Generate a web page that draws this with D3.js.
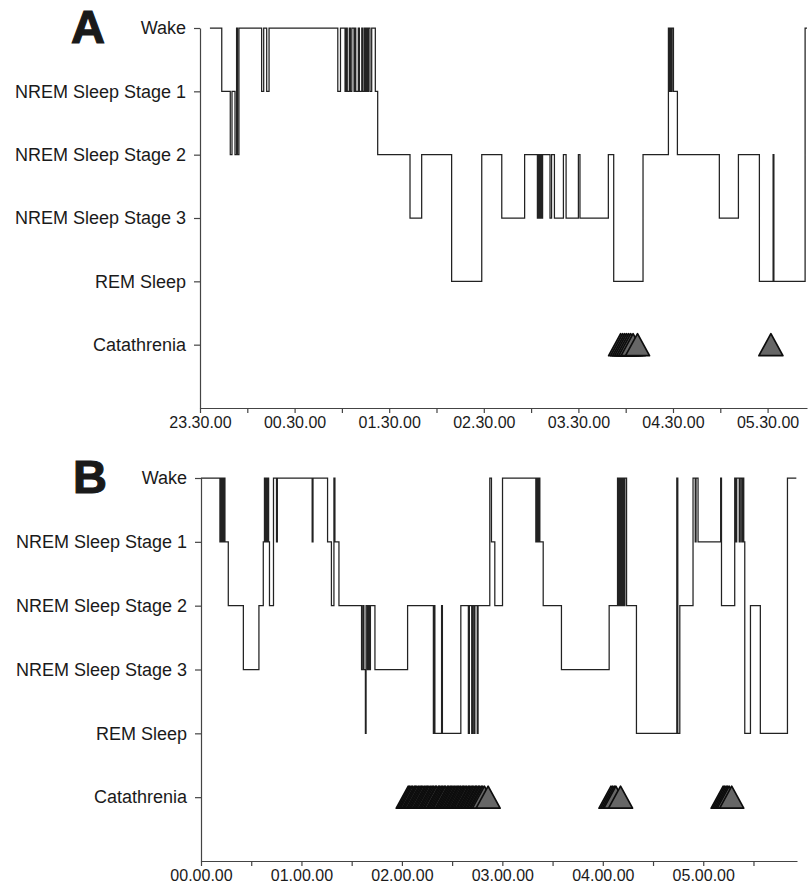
<!DOCTYPE html>
<html lang="en">
<head>
<meta charset="utf-8">
<title>Hypnograms with catathrenia</title>
<script src="https://d3js.org/d3.v7.min.js"></script>
<style>
  body { margin: 0; background: #fff; }
  svg text { font-family: "Liberation Sans", Arial, sans-serif; fill: #1a1a1a; }
  .axis path, .axis line { stroke: #444; stroke-width: 1.2; }
</style>
</head>
<body>
<svg width="811" height="885"></svg>
<script>
// y levels, bottom to top
var stageLabels = ['Catathrenia', 'REM Sleep', 'NREM Sleep Stage 3', 'NREM Sleep Stage 2', 'NREM Sleep Stage 1', 'Wake'];
var stageLevel = { R: 2, N3: 3, N2: 4, N1: 5, W: 6 };

// x tick labels (one per hour)
var hoursA = ['23.30.00', '00.30.00', '01.30.00', '02.30.00', '03.30.00', '04.30.00', '05.30.00'];
var hoursB = ['00.00.00', '01.00.00', '02.00.00', '03.00.00', '04.00.00', '05.00.00'];

// recording length, minutes
var lengthA = 385;
var lengthB = 356;

// hypnogram A: [minutes from start, stage]
var hypnoA = [
  [6.3, 'W'], [13.8, 'N1'], [19.2, 'N2'], [20.3, 'N1'], [22.2, 'N2'], [23.2, 'W'], [23.8, 'N2'], [24.7, 'W'],
  [39.1, 'N1'], [40.4, 'W'], [42.3, 'N1'], [43.8, 'W'],
  [87.4, 'N1'], [89.1, 'W'], [92.0, 'N1'], [92.8, 'W'], [93.4, 'N1'], [94.7, 'W'], [95.4, 'N1'], [96.3, 'W'],
  [97.7, 'N1'], [98.2, 'W'], [98.8, 'N1'], [100.4, 'W'], [101.1, 'N1'], [102.6, 'W'], [103.2, 'N1'], [104.2, 'W'],
  [104.9, 'N1'], [105.6, 'W'], [106.1, 'N1'], [106.8, 'W'], [107.8, 'N1'], [108.9, 'W'], [111.2, 'N1'],
  [112.7, 'N2'], [133.2, 'N3'], [140.6, 'N2'], [159.6, 'R'], [178.7, 'N2'], [191.4, 'N3'], [205.9, 'N2'],
  [214.0, 'N3'], [214.8, 'N2'], [215.4, 'N3'], [216.0, 'N2'], [216.8, 'N3'], [217.3, 'N2'], [222.0, 'N3'],
  [223.0, 'N2'], [224.8, 'N3'], [230.5, 'N2'], [232.2, 'N3'], [240.0, 'N2'], [241.0, 'N3'], [259.0, 'N2'],
  [262.4, 'R'], [281.0, 'N2'], [297.1, 'W'], [297.7, 'N1'], [298.4, 'W'], [299.0, 'N1'], [299.4, 'W'],
  [300.3, 'N1'], [302.8, 'N2'], [329.4, 'N3'], [341.5, 'N2'], [354.8, 'R'], [363.5, 'N2'], [364.0, 'R'],
  [383.8, 'W'], [385.0, 'W']
];

// hypnogram B
var hypnoB = [
  [0, 'W'], [11.3, 'N1'], [11.8, 'W'], [12.3, 'N1'], [12.8, 'W'], [13.3, 'N1'], [13.7, 'W'], [14.3, 'N1'],
  [16.3, 'N2'], [25.3, 'N3'], [34.6, 'N2'], [37.2, 'N1'], [37.9, 'W'], [38.4, 'N1'], [38.9, 'W'], [39.4, 'N1'],
  [39.9, 'W'], [40.4, 'N1'], [40.9, 'N2'], [43.3, 'W'], [45.1, 'N1'], [45.6, 'W'], [66.4, 'N1'], [66.9, 'W'],
  [75.6, 'N1'], [77.9, 'N2'], [79.4, 'W'], [80.0, 'N1'], [82.4, 'N2'], [95.9, 'N3'], [96.7, 'N2'], [97.3, 'N3'],
  [98.2, 'R'], [98.6, 'N2'], [99.4, 'N3'], [100.0, 'N2'], [100.6, 'N3'], [101.2, 'N2'], [103.9, 'N3'],
  [123.4, 'N2'], [138.8, 'R'], [139.3, 'N2'], [139.7, 'R'], [143.7, 'N2'], [144.2, 'R'], [155.2, 'N2'],
  [159.7, 'R'], [160.3, 'N2'], [161.7, 'R'], [162.2, 'N2'], [163.0, 'R'], [163.6, 'N2'], [165.0, 'R'],
  [165.5, 'N2'], [172.5, 'W'], [173.5, 'N1'], [175.5, 'N2'], [180.1, 'W'], [200.0, 'N1'], [200.6, 'W'],
  [201.2, 'N1'], [201.8, 'W'], [202.4, 'N1'], [204.4, 'N2'], [215.3, 'N3'], [243.8, 'N2'], [248.8, 'W'],
  [249.4, 'N2'], [249.9, 'W'], [250.5, 'N2'], [251.0, 'W'], [251.6, 'N2'], [252.0, 'W'], [252.6, 'N2'],
  [253.2, 'W'], [254.2, 'N2'], [260.1, 'R'], [284.2, 'W'], [284.8, 'R'], [286.0, 'N2'], [293.9, 'W'],
  [295.2, 'N1'], [295.7, 'W'], [296.9, 'N1'], [310.4, 'W'], [310.9, 'N2'], [318.8, 'W'], [319.4, 'N1'],
  [320.0, 'W'], [321.5, 'N1'], [322.1, 'W'], [323.0, 'N1'], [323.6, 'W'], [324.2, 'N1'], [324.8, 'R'],
  [328.2, 'N2'], [334.1, 'R'], [350.3, 'W'], [355.6, 'W']
];

// catathrenia episodes, minutes from start
var cataA = [266.8, 268.1, 269.4, 270.6, 271.9, 273.2, 274.7, 277.5, 362.1];
var cataB = [
  123.8, 124.6, 125.5, 126.3, 127.4, 128.2, 129.0, 130.1, 130.9, 131.8, 132.6, 133.7, 134.5, 135.4,
  136.2, 137.3, 138.1, 139.0, 140.0, 140.7, 141.9, 142.6, 143.5, 144.4, 145.3, 146.0, 147.2, 148.0,
  148.9, 149.8, 150.6, 151.6, 152.4, 153.4, 154.1, 155.0, 156.0, 156.8, 157.7, 158.5, 159.6, 160.3,
  161.3, 162.1, 163.0, 164.0, 164.7, 165.7, 166.5, 167.5, 168.3, 169.3, 171.5,
  244.9, 245.9, 246.9, 247.8, 250.6,
  311.9, 312.8, 313.7, 314.6, 315.5, 317.0
];

var svg = d3.select('svg');

function panel(opts) {
  var x = d3.scaleLinear().domain([0, opts.length]).range([opts.left, opts.right]);
  var y = d3.scaleLinear().domain([0, 6]).range([opts.bottom, opts.top]);

  // panel letter
  svg.append('text')
    .attr('x', opts.letterX)
    .attr('y', opts.top + 15)
    .attr('text-anchor', 'middle')
    .style('font-size', '47px')
    .style('font-weight', '900')
    .style('stroke', '#1a1a1a')
    .style('stroke-width', 1.2)
    .text(opts.letter);

  // y axis
  var yAxis = svg.append('g')
    .attr('class', 'axis')
    .attr('transform', 'translate(' + opts.left + ',0)')
    .call(d3.axisLeft(y).tickValues([1, 2, 3, 4, 5, 6])
      .tickFormat(function(d) { return stageLabels[d - 1]; })
      .tickSize(6).tickSizeOuter(0).tickPadding(8));
  yAxis.selectAll('text').style('font-size', '18px').attr('fill', '#1a1a1a');

  // x axis
  var xAxis = svg.append('g')
    .attr('class', 'axis')
    .attr('transform', 'translate(0,' + opts.bottom + ')')
    .call(d3.axisBottom(x).tickValues(d3.range(0, opts.length + 1, 30))
      .tickFormat(function(d) { return d % 60 === 0 ? opts.hours[d / 60] : ''; })
      .tickSize(5).tickSizeOuter(0).tickPadding(4));
  xAxis.selectAll('text').style('font-size', '16px').attr('fill', '#1a1a1a');

  // hypnogram
  var line = d3.line()
    .x(function(d) { return x(d[0]); })
    .y(function(d) { return y(stageLevel[d[1]]); })
    .curve(d3.curveStepAfter);

  svg.append('path')
    .datum(opts.hypno)
    .attr('d', line)
    .attr('fill', 'none')
    .attr('stroke', '#222')
    .attr('stroke-width', 1.25);

  // catathrenia triangles
  var cy = y(1);
  svg.append('g')
    .selectAll('path')
    .data(opts.cata)
    .enter()
    .append('path')
    .attr('d', function(d) {
      var cx = x(d);
      return 'M' + (cx - 12) + ',' + (cy + 11) + 'L' + cx + ',' + (cy - 11) + 'L' + (cx + 12) + ',' + (cy + 11) + 'Z';
    })
    .attr('fill', '#666')
    .attr('stroke', '#0d0d0d')
    .attr('stroke-width', 1.7)
    .attr('stroke-linejoin', 'round');
}

panel({ letter: 'A', letterX: 88, top: 28, bottom: 408, left: 200, right: 807,
  length: lengthA, hours: hoursA, hypno: hypnoA, cata: cataA });
panel({ letter: 'B', letterX: 90, top: 478, bottom: 861, left: 201, right: 797,
  length: lengthB, hours: hoursB, hypno: hypnoB, cata: cataB });
</script>
</body>
</html>
